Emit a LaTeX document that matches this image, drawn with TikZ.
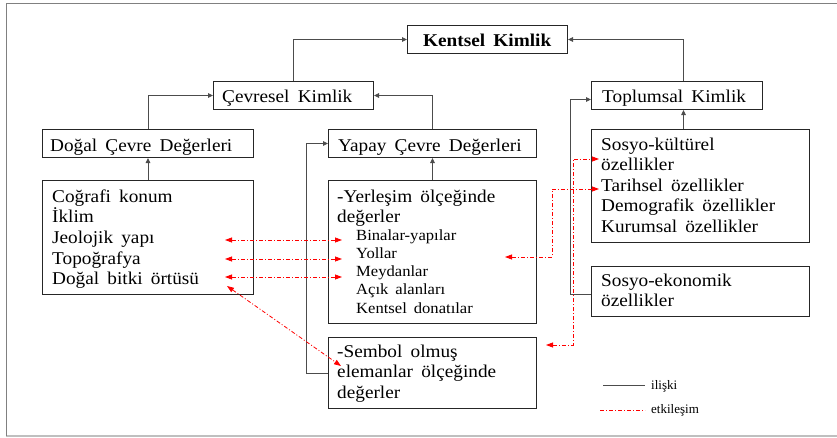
\documentclass[tikz,border=0pt]{standalone}
\usepackage{fontspec}
\setmainfont{Liberation Serif}
\newfontfamily\stretchedserif{Liberation Serif}[FakeStretch=1.07, WordSpace=1.7]
\usetikzlibrary{arrows.meta}
\begin{document}
\begin{tikzpicture}[x=1pt,y=-1pt,
  box/.style={draw=black!85, line width=1pt, anchor=north west, inner sep=0pt},
  conn/.style={draw=black!70, line width=0.9pt, -{Triangle[length=5pt,width=4.5pt]}},
  plain/.style={draw=black!70, line width=0.9pt},
  rel/.style={draw=red, line width=0.8pt, dash pattern=on 4pt off 2pt on 1pt off 2pt,
    {Triangle[length=7pt,width=5pt]}-{Triangle[length=7pt,width=5pt]}},
  relline/.style={draw=red, line width=0.8pt, dash pattern=on 4pt off 2pt on 1pt off 2pt},
  big/.style={font=\stretchedserif\fontsize{18}{20.7}\selectfont},
  bigb/.style={font=\stretchedserif\fontsize{18}{20.7}\selectfont\bfseries},
  small/.style={font=\stretchedserif\fontsize{15.5}{18}\selectfont},
  leg/.style={font=\fontsize{13}{15}\selectfont},
  txt/.style={anchor=base west, inner sep=0pt}]
\useasboundingbox (0,0) rectangle (837,437);
% frame
\draw[black!25, line width=2pt] (6,436) -- (845,436);
\draw[black!50, line width=1pt] (845,3) -- (6,3) -- (6,436);

% boxes
\node[box, minimum width=160, minimum height=28] (kk) at (407,25) {};
\node[box, minimum width=160, minimum height=28] (ck) at (213,81) {};
\node[box, minimum width=171, minimum height=28] (tk) at (591,81) {};
\node[box, minimum width=211, minimum height=28] (dc) at (42,129) {};
\node[box, minimum width=208, minimum height=28] (yc) at (328,129) {};
\node[box, minimum width=211, minimum height=114] (di) at (42,180) {};
\node[box, minimum width=208, minimum height=143] (yb) at (328,180) {};
\node[box, minimum width=208, minimum height=71] (sb) at (328,337) {};
\node[box, minimum width=218, minimum height=113] (sk) at (591,129) {};
\node[box, minimum width=218, minimum height=50] (se) at (591,266) {};

% single-line texts
\node[txt,bigb] (kkt) at (423,46) {Kentsel Kimlik};
\node[txt,big] (ckt) at (222,102) {Çevresel Kimlik};
\node[txt,big] (tkt) at (602,102) {Toplumsal Kimlik};
\node[txt,big] (dct) at (50,151) {Doğal Çevre Değerleri};
\node[txt,big] (yct) at (338,151) {Yapay Çevre Değerleri};

% multi-line texts
\foreach \t [count=\i] in {Coğrafi konum, İklim, Jeolojik yapı, Topoğrafya, Doğal bitki örtüsü}
  \node[txt,big] (di\i) at (52,{202+20.7*(\i-1)}) {\t};
\node[txt,big] (yb1) at (337,202) {-Yerleşim ölçeğinde};
\node[txt,big] (yb2) at (337,222.5) {değerler};
\foreach \t [count=\i] in {Binalar-yapılar, Yollar, Meydanlar, Açık alanları, Kentsel donatılar}
  \node[txt,small] (ybs\i) at (356,{240+18.3*(\i-1)}) {\t};
\foreach \t [count=\i] in {-Sembol olmuş, elemanlar ölçeğinde, değerler}
  \node[txt,big] (sb\i) at (337,{357+20.5*(\i-1)}) {\t};
\foreach \t [count=\i] in {Sosyo-kültürel, özellikler, Tarihsel özellikler, Demografik özellikler, Kurumsal özellikler}
  \node[txt,big] (sk\i) at (601,{150+20.5*(\i-1)}) {\t};
\node[txt,big] (se1) at (601,286) {Sosyo-ekonomik};
\node[txt,big] (se2) at (601,306.5) {özellikler};

% solid connectors
\draw[conn] (ck.north) |- (kk.west);
\draw[conn] ([xshift=6.5pt]tk.north) |- (kk.east);
\draw[conn] (dc.north) |- (ck.west);
\draw[conn] (yc.north) |- (ck.east);
\draw[conn] (di.north) -- (dc.south);
\draw[conn] (yb.north) -- (yc.south);
\draw[conn] ([xshift=-17pt]sk.north) -- ([xshift=-17pt]sk.north |- tk.south);
\draw[conn] (sb.west) -- ++(-22,0) |- (yc.west);
\draw[conn] ([yshift=-3pt]se.west) -- ++(-21,0) |- ([yshift=-4pt]tk.west);

% interaction (red) connectors
\coordinate (jeo) at (225,240);
\coordinate (bin) at (342,240);
\coordinate (top) at (225,259);
\coordinate (yol) at (342,259);
\coordinate (bit) at (225,277);
\coordinate (mey) at (342,277);
\coordinate (bitd) at (227,286);
\coordinate (ele) at (341,366);
\coordinate (yolr) at (505,257);
\coordinate (tar) at (599,189);
\coordinate (semr) at (546,345);
\coordinate (ozl) at (599,159);
\draw[rel] (jeo) -- (bin);
\draw[rel] (top) -- (yol);
\draw[rel] (bit) -- (mey);
\draw[rel] (bitd) -- (ele);
\draw[rel] (yolr) -- ++(47,0) |- (tar);
\draw[rel] (semr) -- ++(27,0) |- (ozl);

% legend
\coordinate (la1) at (603,385);
\coordinate (la2) at (645,385);
\coordinate (lb1) at (600,410);
\coordinate (lb2) at (645,410);
\draw[plain] (la1) -- (la2);
\draw[relline] (lb1) -- (lb2);
\node[txt,leg] (l1) at (651,389) {ilişki};
\node[txt,leg] (l2) at (651,413) {etkileşim};
\end{tikzpicture}
\end{document}
